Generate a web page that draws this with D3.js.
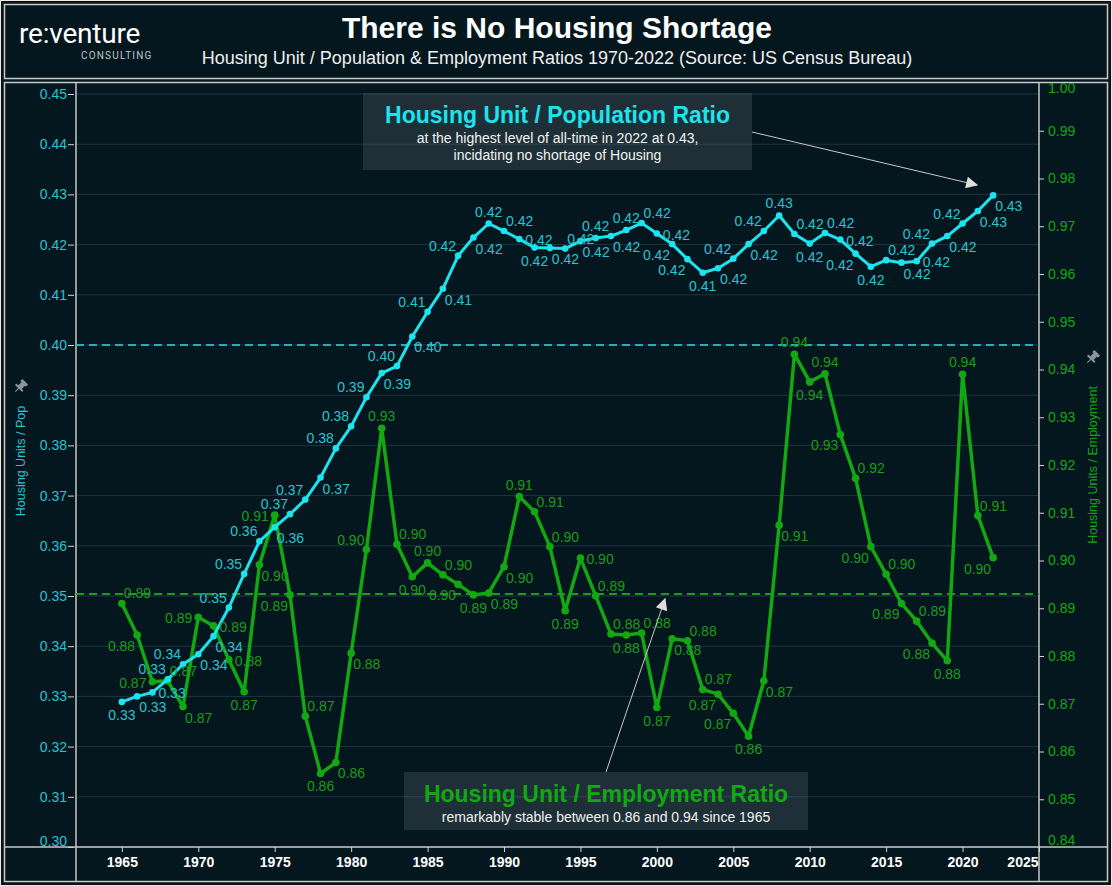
<!DOCTYPE html>
<html lang="en">
  <head>
    <meta charset="UTF-8" />
    <title>There is No Housing Shortage</title>
    <script src="https://d3js.org/d3.v7.min.js"></script>
    <style>
      body {
        margin: 0;
        background-color: #ffffff;
        font-family: "Liberation Sans", Arial, sans-serif;
      }
    </style>
  </head>
  <body>
    <div id="chart"></div>

    <script>
      // Years on the x axis
      const years = [
        1965, 1966, 1967, 1968, 1969, 1970, 1971, 1972, 1973, 1974, 1975, 1976,
        1977, 1978, 1979, 1980, 1981, 1982, 1983, 1984, 1985, 1986, 1987, 1988,
        1989, 1990, 1991, 1992, 1993, 1994, 1995, 1996, 1997, 1998, 1999, 2000,
        2001, 2002, 2003, 2004, 2005, 2006, 2007, 2008, 2009, 2010, 2011, 2012,
        2013, 2014, 2015, 2016, 2017, 2018, 2019, 2020, 2021, 2022
      ];

      // Housing units / population (left axis)
      const popRatio = [
        0.3289, 0.3300, 0.3308, 0.3334, 0.3364, 0.3384, 0.3420, 0.3477, 0.3544,
        0.3609, 0.3637, 0.3663, 0.3692, 0.3736, 0.3794, 0.3838, 0.3896, 0.3944,
        0.3958, 0.4017, 0.4066, 0.4112, 0.4178, 0.4214, 0.4242, 0.4227, 0.4211,
        0.4194, 0.4193, 0.4192, 0.4207, 0.4213, 0.4217, 0.4229, 0.4243, 0.4222,
        0.4201, 0.4171, 0.4144, 0.4153, 0.4172, 0.4201, 0.4227, 0.4258, 0.4221,
        0.4202, 0.4223, 0.4210, 0.4182, 0.4156, 0.4169, 0.4164, 0.4167, 0.4202,
        0.4217, 0.4242, 0.4267, 0.4298
      ];

      // Housing units / employment (right axis)
      const empRatio = [
        0.8910, 0.8844, 0.8746, 0.8748, 0.8694, 0.8881, 0.8863, 0.8792, 0.8725,
        0.8991, 0.9095, 0.8928, 0.8674, 0.8554, 0.8577, 0.8806, 0.9023, 0.9277,
        0.9034, 0.8966, 0.8995, 0.8970, 0.8950, 0.8928, 0.8932, 0.8987, 0.9134,
        0.9102, 0.9029, 0.8895, 0.9005, 0.8926, 0.8846, 0.8844, 0.8848, 0.8692,
        0.8836, 0.8832, 0.8730, 0.8720, 0.8680, 0.8632, 0.8748, 0.9074, 0.9432,
        0.9374, 0.9391, 0.9264, 0.9172, 0.9029, 0.8971, 0.8910, 0.8873, 0.8827,
        0.8790, 0.9390, 0.9094, 0.9006
      ];

      // Reference lines
      const popRefLine = 0.40;
      const empRefLine = 0.893;

      // Tick labels
      const leftTicks = [0.30, 0.31, 0.32, 0.33, 0.34, 0.35, 0.36, 0.37, 0.38,
        0.39, 0.40, 0.41, 0.42, 0.43, 0.44, 0.45];
      const rightTicks = [0.84, 0.85, 0.86, 0.87, 0.88, 0.89, 0.90, 0.91, 0.92,
        0.93, 0.94, 0.95, 0.96, 0.97, 0.98, 0.99, 1.00];
      const yearTicks = [1965, 1970, 1975, 1980, 1985, 1990, 1995, 2000, 2005,
        2010, 2015, 2020, 2025];

      const W = 1112, H = 886;
      const bg = "#04161e";
      const cyan = "#1de3ee", cyanText = "#27c4d2";
      const green = "#13a813", greenText = "#1b9c1b";
      const frame = "#c9c9c9";

      const plot = { left: 76, right: 1039, top: 83, bottom: 847 };

      const x = d3.scaleLinear().domain([1962, 2025]).range([plot.left, plot.right]);
      const yL = d3.scaleLinear().domain([0.30, 0.45]).range([plot.bottom, 94]);
      const yR = d3.scaleLinear().domain([0.84, 1.00]).range([plot.bottom, plot.top]);

      const svg = d3.select("#chart").append("svg")
        .attr("width", W).attr("height", H);

      svg.append("rect").attr("width", W).attr("height", H).attr("fill", "#e9e9e9");
      svg.append("rect").attr("x", 2).attr("y", 2).attr("width", W - 4).attr("height", H - 4)
        .attr("fill", bg).attr("stroke", "#111").attr("stroke-width", 2);

      // header and chart frames
      svg.append("rect").attr("x", 4.5).attr("y", 4.5).attr("width", 1103).attr("height", 74)
        .attr("fill", "none").attr("stroke", frame).attr("stroke-width", 1.5);
      svg.append("rect").attr("x", 4.5).attr("y", 82.5).attr("width", 1103).attr("height", 799)
        .attr("fill", "none").attr("stroke", frame).attr("stroke-width", 1.5);

      // logo
      svg.append("text").attr("x", 19).attr("y", 43)
        .attr("fill", "#ffffff").attr("font-size", 28).attr("font-family", "Roboto, sans-serif")
        .attr("letter-spacing", -0.2)
        .text("re:venture");
      svg.append("text").attr("x", 81).attr("y", 59)
        .attr("fill", "#bfc6c9").attr("font-size", 10).attr("letter-spacing", 1.2)
        .attr("font-family", "Roboto, sans-serif")
        .text("CONSULTING");

      // title
      svg.append("text")
        .attr("x", 557).attr("y", 38).attr("text-anchor", "middle")
        .attr("fill", "#ffffff").attr("font-size", 30).attr("font-weight", "bold")
        .text("There is No Housing Shortage");
      svg.append("text")
        .attr("x", 557).attr("y", 64).attr("text-anchor", "middle")
        .attr("fill", "#f0f0f0").attr("font-size", 18)
        .text("Housing Unit / Population & Employment Ratios 1970-2022 (Source: US Census Bureau)");

      // gridlines
      svg.append("g").selectAll("line").data(leftTicks).enter().append("line")
        .attr("x1", plot.left).attr("x2", plot.right)
        .attr("y1", (d) => yL(d)).attr("y2", (d) => yL(d))
        .attr("stroke", "#1e3642").attr("stroke-width", 1);

      // left axis
      const gL = svg.append("g").attr("transform", `translate(${plot.left},0)`)
        .call(d3.axisLeft(yL).tickValues(leftTicks).tickFormat(d3.format(".2f"))
          .tickSize(6).tickPadding(3));
      gL.select(".domain").remove();
      gL.selectAll("line").attr("stroke", "#cfd6d8").attr("transform", "translate(-2,0)");
      gL.selectAll("text").attr("fill", cyanText).attr("font-size", 14)
        .attr("font-family", "'Liberation Sans', Arial, sans-serif");
      gL.selectAll(".tick").filter((d) => d === 0.30).select("text").attr("dy", "-0.1em");

      // right axis
      const gR = svg.append("g").attr("transform", `translate(${plot.right},0)`)
        .call(d3.axisRight(yR).tickValues(rightTicks).tickFormat(d3.format(".2f"))
          .tickSize(5).tickPadding(4));
      gR.select(".domain").remove();
      gR.selectAll("line").attr("stroke", "#cfd6d8");
      gR.selectAll(".tick").filter((d) => d === 0.84 || d === 1.00).select("line").remove();
      gR.selectAll(".tick").filter((d) => d === 0.84).select("text").attr("dy", "-0.2em");
      gR.selectAll(".tick").filter((d) => d === 1.00).select("text").attr("dy", "0.7em");
      gR.selectAll("text").attr("fill", green).attr("font-size", 14)
        .attr("font-family", "'Liberation Sans', Arial, sans-serif");

      // axis frame lines
      svg.append("line").attr("x1", plot.left).attr("x2", plot.left)
        .attr("y1", plot.top).attr("y2", 882).attr("stroke", frame).attr("stroke-width", 1.5);
      svg.append("line").attr("x1", plot.right).attr("x2", plot.right)
        .attr("y1", plot.top).attr("y2", 882).attr("stroke", frame).attr("stroke-width", 1.5);
      svg.append("line").attr("x1", 5).attr("x2", 1107)
        .attr("y1", plot.bottom).attr("y2", plot.bottom).attr("stroke", frame).attr("stroke-width", 1.5);

      // x axis
      const gX = svg.append("g").attr("transform", `translate(0,${plot.bottom})`)
        .call(d3.axisBottom(x).tickValues(yearTicks).tickFormat(d3.format("d"))
          .tickSize(5).tickPadding(5));
      gX.select(".domain").remove();
      gX.selectAll("line").attr("stroke", "#cfd6d8");
      gX.selectAll("text").attr("fill", "#ffffff").attr("font-size", 14)
        .attr("font-weight", "bold").attr("font-family", "'Liberation Sans', Arial, sans-serif");
      gX.selectAll(".tick").filter((d) => d === 2025).select("text")
        .attr("text-anchor", "end").attr("x", -1);

      // axis titles
      svg.append("text")
        .attr("transform", `translate(25,${461}) rotate(-90)`)
        .attr("text-anchor", "middle").attr("fill", cyanText).attr("font-size", 12.5)
        .text("Housing Units / Pop");
      svg.append("text")
        .attr("transform", `translate(1097,${465}) rotate(-90)`)
        .attr("text-anchor", "middle").attr("fill", green).attr("font-size", 12.5)
        .text("Housing Units / Employment");

      // pin icons
      function pin(cx, cy) {
        const g = svg.append("g").attr("transform", `translate(${cx},${cy}) rotate(45)`)
          .attr("fill", "#8a9499");
        g.append("rect").attr("x", -4).attr("y", -6).attr("width", 8).attr("height", 3);
        g.append("rect").attr("x", -2.5).attr("y", -4).attr("width", 5).attr("height", 6);
        g.append("rect").attr("x", -5).attr("y", 1.5).attr("width", 10).attr("height", 2);
        g.append("rect").attr("x", -0.6).attr("y", 3).attr("width", 1.2).attr("height", 5);
      }
      pin(21, 386);
      pin(1093, 357);

      // reference lines
      svg.append("line").attr("x1", plot.left).attr("x2", plot.right)
        .attr("y1", yL(popRefLine)).attr("y2", yL(popRefLine))
        .attr("stroke", "#28aebb").attr("stroke-width", 2).attr("stroke-dasharray", "8,5");
      svg.append("line").attr("x1", plot.left).attr("x2", plot.right)
        .attr("y1", yR(empRefLine)).attr("y2", yR(empRefLine))
        .attr("stroke", "#1b9c1b").attr("stroke-width", 2).attr("stroke-dasharray", "8,5");

      // series
      const series = [
        { data: years.map((yr, i) => ({ year: yr, v: popRatio[i] })), y: yL,
          line: cyan, text: cyanText, width: 3, r: 3.3 },
        { data: years.map((yr, i) => ({ year: yr, v: empRatio[i] })), y: yR,
          line: green, text: greenText, width: 3.5, r: 3.8 }
      ];
      series.forEach((s) => {
        s.pts = s.data.map((d) => [x(d.year), s.y(d.v)]);
      });

      // lines and points (green underneath)
      [series[1], series[0]].forEach((s) => {
        const line = d3.line().x((d) => x(d.year)).y((d) => s.y(d.v));
        svg.append("path").datum(s.data).attr("d", line)
          .attr("fill", "none").attr("stroke", s.line).attr("stroke-width", s.width)
          .attr("stroke-linejoin", "round");
        svg.append("g").selectAll("circle").data(s.data).enter().append("circle")
          .attr("cx", (d) => x(d.year)).attr("cy", (d) => s.y(d.v))
          .attr("r", s.r).attr("fill", s.line);
      });

      // value labels: greedy placement that avoids other labels, points and lines
      const LW = 29, LH = 11;
      const placed = [
        { x0: 363, y0: 93, x1: 752, y1: 170 },
        { x0: 404, y0: 772, x1: 808, y1: 830 }
      ];
      const segs = [];
      series.forEach((s) => {
        for (let i = 1; i < s.pts.length; i++) segs.push([s.pts[i - 1], s.pts[i]]);
      });
      const allPts = series[0].pts.concat(series[1].pts);

      function boxFor(kind, px, py) {
        switch (kind) {
          case "up": return { x0: px - LW / 2, y0: py - 18, x1: px + LW / 2, y1: py - 7, a: "middle" };
          case "down": return { x0: px - LW / 2, y0: py + 7, x1: px + LW / 2, y1: py + 18, a: "middle" };
          case "upleft": return { x0: px - 2 - LW, y0: py - 16, x1: px - 2, y1: py - 5, a: "end" };
          case "upright": return { x0: px + 2, y0: py - 16, x1: px + 2 + LW, y1: py - 5, a: "start" };
          case "downleft": return { x0: px - 2 - LW, y0: py + 5, x1: px - 2, y1: py + 16, a: "end" };
          case "downright": return { x0: px + 2, y0: py + 5, x1: px + 2 + LW, y1: py + 16, a: "start" };
          case "right": return { x0: px + 6, y0: py - 5, x1: px + 6 + LW, y1: py + 6, a: "start" };
          default: return { x0: px - 6 - LW, y0: py - 5, x1: px - 6, y1: py + 6, a: "end" };
        }
      }
      const inBox = (b, p, pad) =>
        p[0] >= b.x0 - pad && p[0] <= b.x1 + pad && p[1] >= b.y0 - pad && p[1] <= b.y1 + pad;
      const overlap = (a, b) =>
        Math.max(0, Math.min(a.x1, b.x1) - Math.max(a.x0, b.x0) + 2) *
        Math.max(0, Math.min(a.y1, b.y1) - Math.max(a.y0, b.y0) + 3);

      function cost(b) {
        let c = 0;
        if (b.x0 < plot.left + 2 || b.x1 > plot.right - 2 || b.y0 < plot.top + 2 || b.y1 > plot.bottom - 2) c += 500;
        placed.forEach((q) => { c += overlap(b, q) * 3; });
        allPts.forEach((p) => { if (inBox(b, p, 3)) c += 60; });
        segs.forEach(([p, q]) => {
          for (let k = 1; k < 8; k++) {
            const t = k / 8;
            if (inBox(b, [p[0] + (q[0] - p[0]) * t, p[1] + (q[1] - p[1]) * t], 1.5)) { c += 12; break; }
          }
        });
        return c;
      }

      series.forEach((s) => {
        const g = svg.append("g");
        s.pts.forEach(([px, py], i) => {
          const a = i > 0 ? s.pts[i - 1][1] : py;
          const b = i < s.pts.length - 1 ? s.pts[i + 1][1] : py;
          const slope = b - a;
          let order;
          if (py < a - 3 && py < b - 3) order = ["up", "upleft", "upright", "right", "left", "down"];
          else if (py > a + 3 && py > b + 3) order = ["down", "downleft", "downright", "right", "left", "up"];
          else if (slope < -8) order = i % 2 ? ["downright", "upleft"] : ["upleft", "downright"];
          else if (slope > 8) order = i % 2 ? ["downleft", "upright"] : ["upright", "downleft"];
          else order = i % 2 ? ["down", "up"] : ["up", "down"];
          ["up", "down", "upleft", "downright", "upright", "downleft", "right", "left"].forEach((k) => {
            if (!order.includes(k)) order.push(k);
          });
          let best = null, bestCost = Infinity;
          order.forEach((k, j) => {
            const bx = boxFor(k, px, py);
            const c = cost(bx) + j * 0.5;
            if (c < bestCost) { bestCost = c; best = bx; }
          });
          placed.push(best);
          const tx = best.a === "middle" ? (best.x0 + best.x1) / 2 : best.a === "end" ? best.x1 : best.x0;
          g.append("text").attr("x", tx).attr("y", best.y1)
            .attr("text-anchor", best.a)
            .attr("fill", s.text).attr("font-size", 14)
            .text(s.data[i].v.toFixed(2));
        });
      });

      // arrows
      const defs = svg.append("defs");
      defs.append("marker").attr("id", "arr").attr("viewBox", "0 0 10 10")
        .attr("refX", 9).attr("refY", 5).attr("markerWidth", 18).attr("markerHeight", 12)
        .attr("markerUnits", "userSpaceOnUse").attr("orient", "auto")
        .append("path").attr("d", "M0,0 L10,5 L0,10 z").attr("fill", "#dcdcdc");

      svg.append("line").attr("x1", 752).attr("y1", 132).attr("x2", 977).attr("y2", 185)
        .attr("stroke", "#c8c8c8").attr("stroke-width", 1).attr("marker-end", "url(#arr)");
      svg.append("line").attr("x1", 606).attr("y1", 772).attr("x2", 665).attr("y2", 599)
        .attr("stroke", "#c8c8c8").attr("stroke-width", 1).attr("marker-end", "url(#arr)");

      // annotation boxes
      function note(bx, by, bw, bh, title, color, lines) {
        svg.append("rect").attr("x", bx).attr("y", by).attr("width", bw).attr("height", bh)
          .attr("fill", "#7a8a90").attr("fill-opacity", 0.22);
        const cx = bx + bw / 2;
        svg.append("text")
          .attr("x", cx).attr("y", by + 30).attr("text-anchor", "middle")
          .attr("fill", color).attr("font-size", 23).attr("font-weight", "bold")
          .text(title);
        lines.forEach((ln, i) => {
          svg.append("text")
            .attr("x", cx).attr("y", by + 50 + i * 17).attr("text-anchor", "middle")
            .attr("fill", "#f2f2f2").attr("font-size", 14)
            .text(ln);
        });
      }
      note(363, 93, 389, 77, "Housing Unit / Population Ratio", cyan,
        ["at the highest level of all-time in 2022 at 0.43,", "incidating no shortage of Housing"]);
      note(404, 772, 404, 58, "Housing Unit / Employment Ratio", green,
        ["remarkably stable between 0.86 and 0.94  since 1965"]);
    </script>
  </body>
</html>
